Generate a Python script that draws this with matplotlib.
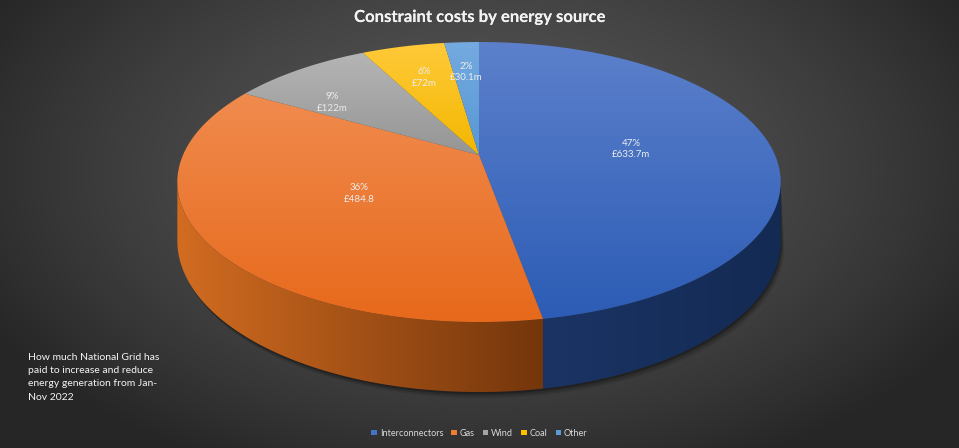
import numpy as np
import matplotlib.pyplot as plt
from matplotlib.patches import Polygon, Rectangle
from matplotlib.colors import to_rgb
import matplotlib.patheffects as pe

plt.rcParams['font.family'] = ['Lato', 'DejaVu Sans']

# data
sources = ["Interconnectors", "Gas", "Wind", "Coal", "Other"]
costs = [633.7, 484.8, 122, 72, 30.1]
pct_labels = ["47%", "36%", "9%", "6%", "2%"]
cost_labels = ["£633.7m", "£484.8", "£122m", "£72m", "£30.1m"]

# colours
legend_colors = ["#4472c4", "#ed7d31", "#a5a5a5", "#ffc000", "#5b9bd5"]
top_light = ["#5c80cb", "#f08b4e", "#b5b5b5", "#ffca3a", "#74aadf"]
top_dark = ["#2c5cb5", "#e7691b", "#959595", "#f3b700", "#5798d4"]
side_left = ["#1b3464", "#d26c21", "#6b6b6b", "#a07800", "#3a6a98"]
side_right = ["#132a53", "#74360b", "#555555", "#806000", "#2d557a"]
# where the data label sits: radius fraction and position inside the slice
label_rho = [0.52, 0.47, 0.68, 0.68, 0.7]
label_pos = [0.5, 0.5, 0.25, 0.5, 0.5]

# pie geometry (pixels)
W, H = 959, 448
cx, cy = 479, 155
A, B = 296, 134.8
k = 0.193
depth = 56.5


def proj(theta, rho=1.0, level=0.0):
    s = rho * np.sin(theta)
    c = rho * np.cos(theta)
    d = 1 + k * c
    return cx + A * s / d, cy - B * c / d + depth * level / d


def gradient_fill(ax, verts, c0, c1, horizontal=False):
    verts = np.asarray(verts)
    patch = Polygon(verts, closed=True, facecolor='none', edgecolor='none',
                    transform=ax.transData)
    ax.add_patch(patch)
    c0, c1 = np.array(to_rgb(c0)), np.array(to_rgb(c1))
    t = np.linspace(0, 1, 256)[:, None]
    grad = c0 + (c1 - c0) * t
    x0, x1 = verts[:, 0].min(), verts[:, 0].max()
    y0, y1 = verts[:, 1].min(), verts[:, 1].max()
    if horizontal:
        img = grad[None, :, :]
    else:
        img = grad[:, None, :]
    im = ax.imshow(img, extent=(x0, x1, y1, y0), origin='upper',
                   aspect='auto', interpolation='bilinear', zorder=2)
    im.set_clip_path(patch)
    return im


fig = plt.figure(figsize=(W / 100, H / 100), dpi=100)
ax = fig.add_axes([0, 0, 1, 1])
ax.set_xlim(0, W)
ax.set_ylim(H, 0)
ax.axis('off')

# background radial gradient
yy, xx = np.mgrid[0:H, 0:W]
r = np.sqrt(((xx - 480) / 560) ** 2 + ((yy - 170) / 330) ** 2)
r = np.clip(r, 0, 1)
bg0, bg1 = np.array(to_rgb("#555555")), np.array(to_rgb("#262626"))
bg = bg0 + (bg1 - bg0) * (r[..., None] ** 1.6)
ax.imshow(bg, extent=(0, W, H, 0), aspect='auto', zorder=0)

fracs = np.array(costs) / sum(costs)
edges = np.concatenate([[0], np.cumsum(fracs)]) * 2 * np.pi
sil0 = np.arccos(-k)
sil1 = 2 * np.pi - sil0

# shadow below the side
ts = np.linspace(sil0, sil1, 200)
sx, sy = proj(ts, 1.0, 1.0)
for off, a in [(6, 0.10), (4, 0.15), (2, 0.25)]:
    tx, ty = proj(ts, 1.0, 0.0)
    shadow = np.column_stack([np.r_[tx, sx[::-1] + off * 0.6],
                              np.r_[ty, sy[::-1] + off]])
    ax.add_patch(Polygon(shadow, closed=True, facecolor='black',
                         edgecolor='none', alpha=a, zorder=1))

# sides
for i in range(len(costs)):
    a0, a1 = max(edges[i], sil0), min(edges[i + 1], sil1)
    if a1 <= a0:
        continue
    t = np.linspace(a0, a1, 120)
    tx, ty = proj(t, 1.0, 0.0)
    bx, by = proj(t, 1.0, 1.0)
    verts = np.column_stack([np.r_[tx, bx[::-1]], np.r_[ty, by[::-1]]])
    gradient_fill(ax, verts, side_left[i], side_right[i], horizontal=True)

# tops
for i in range(len(costs)):
    t = np.linspace(edges[i], edges[i + 1], 200)
    ax_, ay_ = proj(t)
    verts = np.column_stack([np.r_[cx, ax_], np.r_[cy, ay_]])
    gradient_fill(ax, verts, top_light[i], top_dark[i])

# data labels
for i in range(len(costs)):
    ang = edges[i] + (edges[i + 1] - edges[i]) * label_pos[i]
    lx, ly = proj(ang, label_rho[i])
    ax.text(lx, ly, f"{pct_labels[i]}\n{cost_labels[i]}", ha='center',
            va='center', fontsize=7, color='#ececec', linespacing=1.35,
            zorder=5)

# title
ax.text(479, 17, "Constraint costs by energy source", ha='center',
        va='center', fontsize=12, fontweight='bold', color='#f2f2f2',
        zorder=5,
        path_effects=[pe.withSimplePatchShadow(offset=(1, -1), alpha=0.7),
                      pe.Normal()])

# side note
ax.text(28, 353, "How much National Grid has\npaid to increase and reduce\n"
        "energy generation from Jan-\nNov 2022", ha='left', va='top',
        fontsize=7.5, color='#f4f4f4', linespacing=1.6, zorder=5)

handles = [Rectangle((0, 0), 1, 1, facecolor=c) for c in legend_colors]
fig.legend(handles, sources, loc='center', bbox_to_anchor=(0.5, 0.033),
           ncol=5, frameon=False, fontsize=6.6, labelcolor='#d9d9d9',
           handlelength=0.6, handleheight=0.6, handletextpad=0.3,
           columnspacing=0.9)

fig.savefig("out.png", dpi=100)
